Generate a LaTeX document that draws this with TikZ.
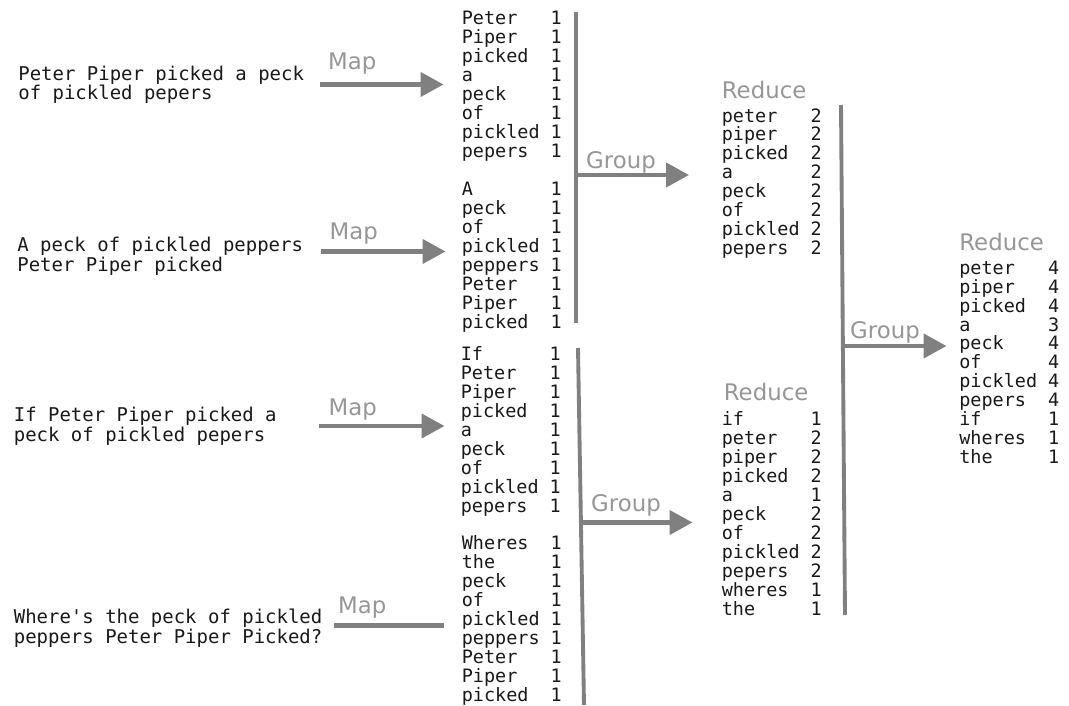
\documentclass[tikz,border=0pt]{standalone}
\usepackage{fontspec}
\setmonofont{DejaVu Sans Mono}
\setsansfont{DejaVu Sans}
\usetikzlibrary{positioning, arrows.meta}
\definecolor{arrowgray}{RGB}{128, 128, 128}
\definecolor{labelgray}{RGB}{150, 150, 150}
\definecolor{wordblack}{RGB}{25, 25, 25}
% one word/count row, count at column 9
\newcommand{\wc}[2]{\makebox[4.816em][l]{#1}#2}

\begin{document}
\begin{tikzpicture}[
    font=\ttfamily,
    % text styles (base west = baseline of the last line)
    words/.style={anchor=base west, inner sep=0pt, align=left, text=wordblack, font=\ttfamily\fontsize{10.5}{10.77}\selectfont},
    sentence/.style={words, font=\ttfamily\fontsize{10.8}{10.9}\selectfont},
    phase/.style={anchor=base west, inner sep=0pt, text=labelgray, font=\sffamily\fontsize{13}{15}\selectfont},
    % connector styles
    flow/.style={-{Triangle[length=4.6mm, width=4.8mm]}, line width=2.5pt, draw=arrowgray},
    plain/.style={-, line width=2.5pt, draw=arrowgray},
    bar/.style={-, line width=2.2pt, draw=arrowgray}
]

\useasboundingbox (0, 0) rectangle (21.38, 14.1);

% ==========================================
% 1. input sentences
% ==========================================
\node[sentence] (in1) at (0.36, 12.10) {Peter Piper picked a peck\\of pickled pepers};
\node[sentence] (in2) at (0.34, 8.68)  {A peck of pickled peppers\\Peter Piper picked};
\node[sentence] (in3) at (0.27, 5.28)  {If Peter Piper picked a\\peck of pickled pepers};
\node[sentence] (in4) at (0.27, 1.24)  {Where's the peck of pickled\\peppers Peter Piper Picked?};

% ==========================================
% 2. map outputs
% ==========================================
\node[words] (map1) at (9.23, 10.96) {\wc{Peter}{1}\\\wc{Piper}{1}\\\wc{picked}{1}\\\wc{a}{1}\\\wc{peck}{1}\\\wc{of}{1}\\\wc{pickled}{1}\\\wc{pepers}{1}};
\node[words] (map2) at (9.23, 7.54)  {\wc{A}{1}\\\wc{peck}{1}\\\wc{of}{1}\\\wc{pickled}{1}\\\wc{peppers}{1}\\\wc{Peter}{1}\\\wc{Piper}{1}\\\wc{picked}{1}};
\node[words] (map3) at (9.21, 3.86)  {\wc{If}{1}\\\wc{Peter}{1}\\\wc{Piper}{1}\\\wc{picked}{1}\\\wc{a}{1}\\\wc{peck}{1}\\\wc{of}{1}\\\wc{pickled}{1}\\\wc{pepers}{1}};
\node[words] (map4) at (9.23, 0.08)  {\wc{Wheres}{1}\\\wc{the}{1}\\\wc{peck}{1}\\\wc{of}{1}\\\wc{pickled}{1}\\\wc{peppers}{1}\\\wc{Peter}{1}\\\wc{Piper}{1}\\\wc{picked}{1}};

% ==========================================
% 3. reduce outputs
% ==========================================
\node[phase] (rlab1) at (14.43, 12.13) {Reduce};
\node[words] (red1) at (14.43, 9.01) {\wc{peter}{2}\\\wc{piper}{2}\\\wc{picked}{2}\\\wc{a}{2}\\\wc{peck}{2}\\\wc{of}{2}\\\wc{pickled}{2}\\\wc{pepers}{2}};

\node[phase] (rlab2) at (14.47, 6.10) {Reduce};
\node[words] (red2) at (14.43, 1.80) {\wc{if}{1}\\\wc{peter}{2}\\\wc{piper}{2}\\\wc{picked}{2}\\\wc{a}{1}\\\wc{peck}{2}\\\wc{of}{2}\\\wc{pickled}{2}\\\wc{pepers}{2}\\\wc{wheres}{1}\\\wc{the}{1}};

\node[phase] (rlab3) at (19.18, 9.10) {Reduce};
\node[words] (red3) at (19.18, 4.83) {\wc{peter}{4}\\\wc{piper}{4}\\\wc{picked}{4}\\\wc{a}{3}\\\wc{peck}{4}\\\wc{of}{4}\\\wc{pickled}{4}\\\wc{pepers}{4}\\\wc{if}{1}\\\wc{wheres}{1}\\\wc{the}{1}};

% ==========================================
% 4. map arrows
% ==========================================
\coordinate (m1s) at (6.40, 12.41);
\coordinate (m2s) at (6.42, 9.07);
\coordinate (m3s) at (6.38, 5.58);
\coordinate (m4s) at (6.68, 1.59);

\draw[flow, shorten >=0.36cm] (m1s) -- (m1s -| map1.west) node[phase, pos=0, shift={(0.12, 0.31)}] {Map};
\draw[flow, shorten >=0.32cm] (m2s) -- (m2s -| map2.west) node[phase, pos=0, shift={(0.13, 0.25)}] {Map};
\draw[flow, shorten >=0.32cm] (m3s) -- (m3s -| map3.west) node[phase, pos=0, shift={(0.15, 0.22)}] {Map};
% the last one has no head
\draw[plain, shorten >=0.36cm] (m4s) -- (m4s -| map4.west) node[phase, pos=0, shift={(0.04, 0.24)}] {Map};

% ==========================================
% 5. group bars and group arrows
% ==========================================
\coordinate (bar1t) at (11.52, 13.85);
\coordinate (bar1b) at (11.52, 7.64);
\coordinate (bar2t) at (11.56, 7.14);
\coordinate (bar2b) at (11.68, 0.0);
\coordinate (bar3t) at (16.82, 12.0);
\coordinate (bar3b) at (16.90, 1.80);

\draw[bar] (bar1t) -- (bar1b);
\draw[bar] (bar2t) -- (bar2b);
\draw[bar] (bar3t) -- (bar3b);

\coordinate (g1s) at (11.52, 10.60);
\coordinate (g2s) at (11.62, 3.65);
\coordinate (g3s) at (16.86, 7.18);

\draw[flow, shorten >=0.65cm] (g1s) -- (g1s -| red1.west) node[phase, pos=0, shift={(0.16, 0.14)}] {Group};
\draw[flow, shorten >=0.58cm] (g2s) -- (g2s -| red2.west) node[phase, pos=0, shift={(0.16, 0.22)}] {Group};
\draw[flow, shorten >=0.25cm] (g3s) -- (g3s -| red3.west) node[phase, pos=0, shift={(0.10, 0.16)}] {Group};

\end{tikzpicture}
\end{document}
